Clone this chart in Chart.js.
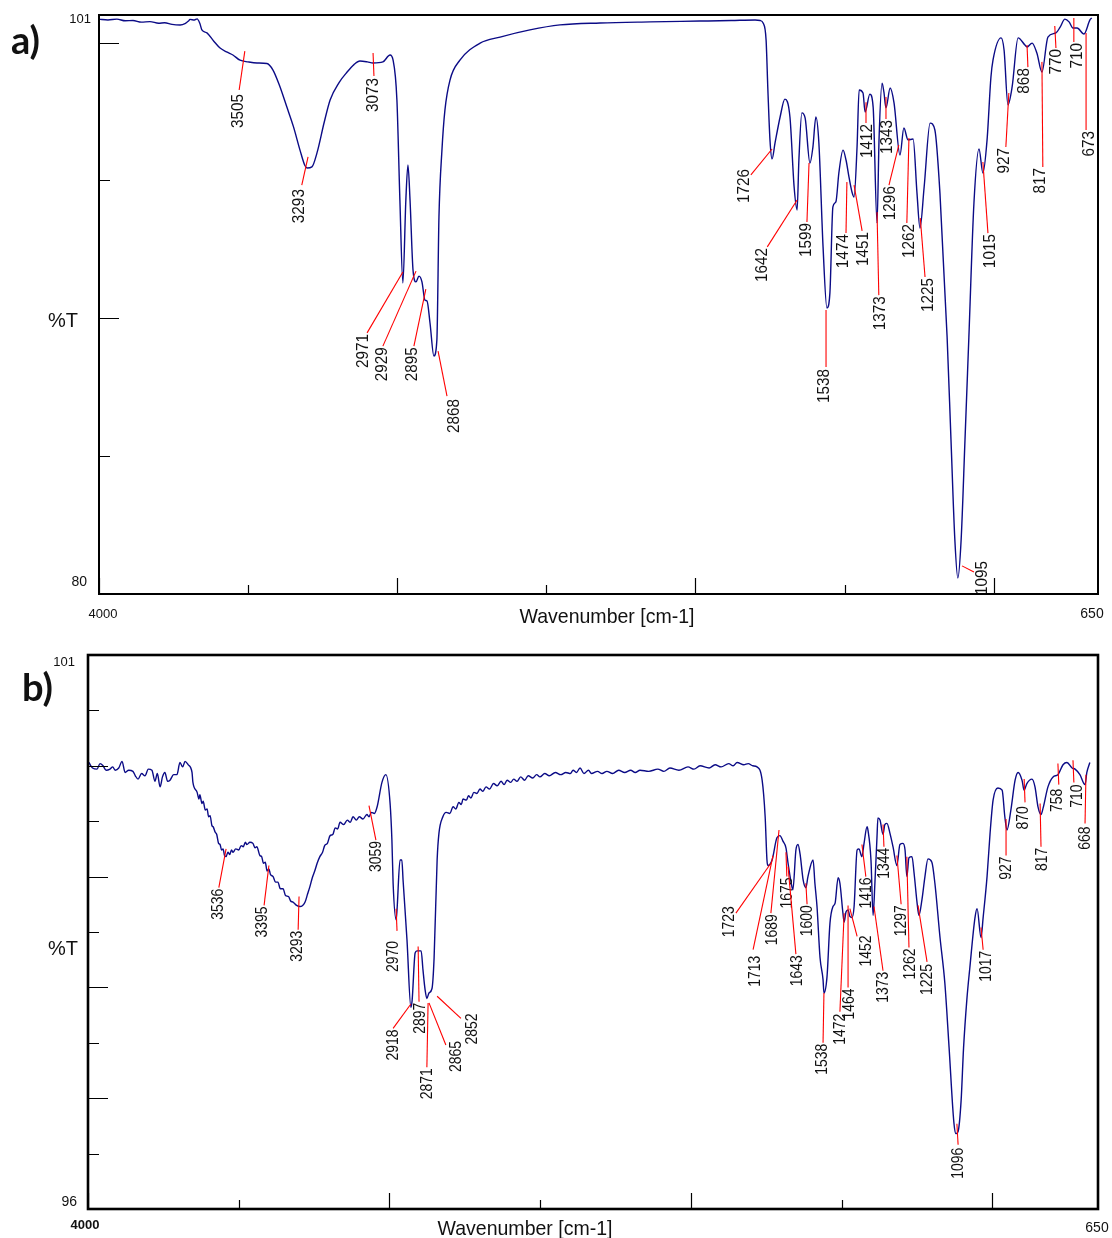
<!DOCTYPE html>
<html>
<head>
<meta charset="utf-8">
<script src="https://cdn.jsdelivr.net/npm/chart.js@4.4.1/dist/chart.umd.min.js"></script>
<style>
  html, body { margin: 0; padding: 0; background: #fff; }
  body { width: 1112px; height: 1238px; position: relative; overflow: hidden; }
  canvas { position: absolute; left: 0; }
  #chartA { top: 0; }
  #chartB { top: 630px; }
</style>
</head>
<body>
<canvas id="chartA" width="1112" height="630"></canvas>
<canvas id="chartB" width="1112" height="608"></canvas>
<script>
// ---- spectrum a) ----
const wavenumberA = [4000,3970,3940,3912,3886,3858,3829,3800,3780,3755,3728,3710,3700,3695,3680,3671,3662,3655,3638,3615,
  3594,3570,3551,3527,3500,3470,3437,3417,3395,3370,3348,3326,3310,3302,3286,3269,3245,3225,3195,3168,
  3145,3125,3100,3081,3048,3024,3014,3001,2991,2981,2971,2964,2957,2947,2937,2927,2917,2907,2900,2890,
  2877,2867,2860,2850,2840,2823,2789,2722,2655,2555,2454,2320,2152,1985,1880,1800,1783,1773,1763,1757,
  1750,1743,1733,1716,1700,1683,1669,1659,1653,1643,1632,1616,1606,1596,1586,1572,1559,1549,1539,1529,
  1519,1505,1495,1485,1475,1468,1458,1451,1438,1431,1415,1404,1391,1384,1374,1368,1361,1347,1334,1314,
  1301,1287,1270,1257,1247,1233,1213,1197,1180,1156,1143,1130,1120,1109,1096,1083,1066,1049,1036,1022,
  1009,1002,975,965,952,938,918,895,888,871,855,838,818,791,777,761,747,734,720,697,677,671];
const transmittanceA = [100.85,100.82,100.85,100.79,100.80,100.74,100.76,100.70,100.72,100.66,100.64,100.70,100.78,100.84,100.82,100.86,100.70,100.46,100.35,100.05,
  99.80,99.65,99.55,99.36,99.30,99.26,99.24,99.01,98.45,97.66,96.95,96.10,95.55,95.45,95.49,96.00,97.10,97.92,98.55,98.93,
  99.20,99.33,99.30,99.26,99.30,99.55,99.37,97.92,94.29,91.28,94.29,95.56,94.29,91.75,91.32,91.53,91.32,90.66,90.63,89.83,
  88.63,89.21,93.67,96.10,97.55,98.64,99.37,99.98,100.20,100.46,100.64,100.71,100.75,100.78,100.80,100.82,100.80,100.71,100.09,98.28,
  96.47,95.78,96.36,97.30,97.95,97.30,94.76,93.93,95.74,97.45,97.26,95.63,96.21,97.30,96.36,92.59,90.37,90.92,94.04,94.22,
  95.27,96.10,95.74,95.12,94.58,94.40,96.21,98.28,98.17,97.48,98.13,97.66,93.46,96.58,98.53,98.21,97.63,98.35,97.81,95.92,
  96.90,96.47,96.50,94.54,93.27,94.76,97.08,96.83,94.54,89.32,85.60,81.96,80.58,81.96,85.60,89.32,94.18,96.14,95.27,96.47,
  98.75,99.37,100.17,99.73,97.74,98.39,100.17,99.91,99.84,99.98,99.62,98.93,100.20,100.35,100.56,100.85,100.75,100.53,100.53,100.31,100.82,100.89];
const peakLabelsA = ["3505","3293","3073","2971","2929","2895","2868","1726","1642","1599","1538","1474","1451","1412",
  "1343","1373","1296","1262","1225","1095","1015","927","868","817","770","710","673"];

// ---- spectrum b) ----
const wavenumberB = [3997,3985,3970,3960,3950,3940,3927,3918,3910,3898,
  3887,3877,3865,3851,3843,3834,3822,3811,3800,3788,
  3778,3770,3761,3753,3745,3736,3728,3716,3705,3695,
  3686,3678,3668,3655,3652,3638,3632,3629,3622,3618,
  3611,3605,3600,3595,3589,3585,3578,3573,3567,3562,
  3557,3552,3547,3542,3536,3530,3524,3519,3510,3500,
  3492,3485,3478,3473,3463,3453,3446,3440,3430,3424,
  3418,3412,3406,3400,3395,3386,3378,3370,3362,3353,
  3345,3335,3328,3320,3308,3297,3288,3280,3272,3264,
  3256,3248,3240,3231,3222,3215,3206,3197,3188,3180,
  3172,3164,3152,3140,3130,3121,3110,3100,3088,3075,
  3068,3060,3050,3041,3025,3012,2998,2992,2988,2978,
  2975,2965,2959,2955,2942,2929,2925,2915,2909,2895,
  2889,2882,2876,2869,2859,2852,2842,2836,2823,2812,
  2800,2789,2780,2770,2762,2756,2745,2738,2730,2720,
  2710,2700,2690,2680,2668,2655,2643,2630,2620,2610,
  2598,2588,2577,2565,2552,2540,2525,2512,2501,2485,
  2470,2450,2432,2415,2400,2391,2380,2368,2355,2340,
  2330,2310,2295,2279,2260,2240,2220,2200,2185,2169,
  2140,2110,2090,2070,2040,2010,1990,1970,1940,1920,
  1900,1875,1860,1847,1825,1810,1795,1781,1764,1754,
  1748,1745,1731,1715,1705,1695,1685,1678,1668,1662,
  1652,1645,1638,1628,1619,1612,1595,1589,1582,1572,
  1562,1559,1549,1539,1529,1522,1512,1506,1496,1492,
  1486,1479,1473,1466,1459,1449,1443,1433,1426,1416,
  1413,1403,1396,1390,1383,1380,1373,1363,1357,1350,
  1340,1330,1317,1307,1297,1290,1284,1277,1267,1260,
  1250,1244,1234,1224,1214,1201,1191,1174,1158,1144,
  1128,1121,1114,1104,1096,1085,1075,1058,1051,1038,
  1031,1018,1008,998,982,968,959,952,939,925,
  915,902,895,886,869,859,849,839,832,816,
  799,783,766,753,736,726,710,693,687,677];
const transmittanceB = [100.03,99.98,99.97,100.02,100.00,99.96,99.97,99.99,99.96,99.98,
  100.04,99.94,99.96,99.95,99.91,99.88,99.93,99.91,99.97,99.96,
  99.86,99.93,99.81,99.90,99.94,99.86,99.87,99.92,99.92,100.03,
  99.99,100.04,100.01,99.94,99.85,99.76,99.70,99.74,99.66,99.68,
  99.60,99.61,99.54,99.55,99.46,99.45,99.40,99.38,99.30,99.29,
  99.24,99.25,99.19,99.18,99.22,99.20,99.24,99.22,99.25,99.24,
  99.28,99.27,99.31,99.29,99.31,99.30,99.26,99.27,99.19,99.18,
  99.12,99.13,99.05,99.07,99.02,99.00,98.95,98.95,98.89,98.89,
  98.83,98.82,98.78,98.77,98.74,98.73,98.74,98.77,98.84,98.91,
  98.99,99.05,99.12,99.18,99.22,99.28,99.30,99.37,99.38,99.44,
  99.43,99.49,99.47,99.51,99.49,99.54,99.51,99.54,99.52,99.56,
  99.54,99.58,99.57,99.63,99.85,99.92,99.66,99.33,98.94,98.61,
  98.70,99.15,99.15,98.97,98.43,97.82,97.88,98.31,98.33,98.33,
  98.16,97.98,97.90,97.95,97.99,98.27,99.15,99.39,99.54,99.58,
  99.57,99.63,99.61,99.67,99.65,99.70,99.69,99.73,99.71,99.76,
  99.75,99.79,99.77,99.81,99.79,99.84,99.82,99.86,99.83,99.87,
  99.85,99.88,99.86,99.90,99.87,99.91,99.89,99.92,99.90,99.93,
  99.91,99.94,99.92,99.94,99.93,99.96,99.94,99.98,99.93,99.96,
  99.93,99.95,99.93,99.95,99.93,99.96,99.94,99.96,99.94,99.96,
  99.95,99.97,99.95,99.98,99.96,99.99,99.97,100.00,99.98,100.01,
  99.99,100.02,100.00,100.03,100.01,100.02,100.00,99.99,99.87,99.54,
  99.15,99.10,99.15,99.35,99.37,99.32,99.26,99.12,98.95,98.88,
  99.24,99.29,99.20,98.97,98.90,99.00,99.15,98.94,98.73,98.27,
  98.07,97.95,98.09,98.58,98.73,98.76,98.99,98.94,98.67,98.59,
  98.68,98.70,98.64,98.63,98.73,99.24,99.25,99.18,99.30,99.45,
  99.42,99.15,98.65,98.94,99.36,99.53,99.51,99.38,99.47,99.48,
  99.39,99.27,99.10,99.29,99.30,99.24,99.00,99.17,99.18,99.03,
  98.76,98.65,98.79,99.00,99.16,99.13,98.94,98.45,98.04,97.46,
  96.78,96.68,96.70,96.98,97.45,97.89,98.18,98.63,98.71,98.45,
  98.63,99.00,99.39,99.69,99.80,99.78,99.54,99.42,99.60,99.87,
  99.94,99.87,99.78,99.84,99.88,99.81,99.63,99.56,99.62,99.81,
  99.90,99.92,100.01,100.03,99.98,99.97,99.92,99.83,99.94,100.03];
const peakLabelsB = ["3536","3395","3293","3059","2970","2918","2897","2871","2865","2852","1723","1713","1689","1675",
  "1643","1600","1538","1472","1464","1452","1416","1344","1373","1297","1262","1225","1096","1017","927","870",
  "817","758","710","668"];

// axis ticks and end labels
const xTicks = [4000, 3500, 3000, 2500, 2000, 1500, 1000];
const yTicksA = [100, 95, 90, 85];
const yTicksB = [100.5, 100, 99.5, 99, 98.5, 98, 97.5, 97, 96.5];
const xEndLabels = ["4000", "650"];
const yEndLabelsA = ["101", "80"];
const yEndLabelsB = ["101", "96"];

// leader layout: [from wn, from %T, to wn, to %T, text dx, text dy]
const leadersA = [
  [3511,99.69,3530,98.28,-1,3],[3299,95.85,3320,94.83,-2,3],[3081,99.62,3078,98.79,-1,1],
  [2981,91.68,3101,89.47,-4,0],[2937,91.71,3048,88.99,-1,0],[2904,91.06,2944,88.99,-2,0],
  [2863,88.81,2833,87.18,7,2],[1743,96.14,1814,95.20,-7,-7],[1659,94.29,1759,92.59,-5,0],
  [1619,95.63,1626,93.49,-1,0],[1562,90.30,1562,88.23,-2,1],[1492,94.94,1495,93.09,-3,0],
  [1468,94.83,1441,93.17,1,0],[1428,97.84,1428,97.08,1,0],[1361,98.03,1361,97.23,1,0],
  [1391,93.85,1385,90.84,1,0],[1318,96.28,1351,94.83,1,0],[1284,96.54,1291,93.46,2,0],
  [1246,93.64,1230,91.50,3,0],[1106,81.02,1066,80.80,8,-12],[1036,95.67,1019,93.09,2,0],
  [949,98.17,959,96.21,-2,0],[888,99.91,885,99.11,-4,0],[838,99.30,835,95.49,-3,0],
  [795,100.60,791,99.80,0,0],[731,100.89,731,100.02,3,0],[690,100.35,690,96.83,3,0]
];
const leadersB = [
  [3542,99.25,3566,98.90,-1,0],[3400,99.10,3416,98.74,-2,0],[3300,98.82,3303,98.52,-1,0],
  [3068,99.64,3045,99.33,0,0],[2978,98.71,2975,98.51,-4,9],[2929,97.85,2988,97.63,0,0],
  [2905,98.37,2902,97.87,1,0],[2872,97.86,2876,97.28,0,0],[2869,97.86,2813,97.48,10,-5],
  [2842,97.92,2763,97.72,11,-6],[1735,99.12,1851,98.67,-7,-8],[1728,99.19,1794,98.34,2,5],
  [1708,99.42,1735,98.67,1,0],[1685,99.22,1682,99.00,0,0],[1678,99.09,1652,98.30,1,0],
  [1619,98.94,1615,98.75,0,0],[1559,97.95,1562,97.50,-1,0],[1492,98.67,1506,97.78,0,1],
  [1479,98.74,1479,98.00,1,0],[1473,98.71,1449,98.46,9,-2],[1433,99.29,1420,99.00,0,0],
  [1363,99.47,1360,99.27,0,0],[1393,98.73,1363,98.15,0,0],[1317,99.19,1303,98.75,0,0],
  [1284,99.18,1277,98.36,1,0],[1247,98.74,1217,98.23,0,1],[1118,96.77,1114,96.58,0,2],
  [1038,98.54,1031,98.34,3,0],[955,99.52,955,99.19,0,0],[895,99.88,892,99.67,-2,3],
  [842,99.66,839,99.27,1,0],[783,100.02,780,99.83,-1,3],[733,100.05,730,99.85,3,1],
  [690,99.92,693,99.48,0,2]
];

const FONT = '"Liberation Sans", Arial, sans-serif';

function drawText(ctx, str, x, y, font, align, squeeze) {
  ctx.save();
  ctx.font = font;
  ctx.fillStyle = '#111';
  ctx.textAlign = align || 'center';
  ctx.textBaseline = 'middle';
  if (squeeze) {
    ctx.translate(x, y);
    ctx.scale(squeeze, 1);
    ctx.fillText(str, 0, 0);
  } else {
    ctx.fillText(str, x, y);
  }
  ctx.restore();
}

function spectrumPlugin(cfg) {
  return {
    id: 'spectrum' + cfg.name,
    afterDatasetsDraw(chart) {
      const { ctx, chartArea: a, scales: { x, y } } = chart;
      ctx.save();

      // red leader lines with rotated peak labels
      ctx.strokeStyle = '#ff0000';
      ctx.lineWidth = 1.1;
      cfg.peaks.forEach((label, i) => {
        const [w1, t1, w2, t2, dx, dy] = cfg.leaders[i];
        const x2 = x.getPixelForValue(w2), y2 = y.getPixelForValue(t2);
        ctx.beginPath();
        ctx.moveTo(x.getPixelForValue(w1), y.getPixelForValue(t1));
        ctx.lineTo(x2, y2);
        ctx.stroke();
        ctx.save();
        ctx.translate(x2 + dx, y2 + dy + 1);
        ctx.rotate(-Math.PI / 2);
        ctx.scale(cfg.squeeze, 1);
        ctx.font = cfg.peakFont;
        ctx.fillStyle = '#111';
        ctx.textAlign = 'right';
        ctx.textBaseline = 'middle';
        ctx.fillText(label, 0, 0);
        ctx.restore();
      });

      // frame and inner ticks
      ctx.strokeStyle = '#000';
      ctx.lineWidth = cfg.frameWidth;
      ctx.strokeRect(a.left, a.top, a.right - a.left, a.bottom - a.top);
      ctx.lineWidth = 1.2;
      ctx.beginPath();
      cfg.yTicks.forEach(v => {
        const py = Math.round(y.getPixelForValue(v)) + 0.5;
        ctx.moveTo(a.left, py);
        ctx.lineTo(a.left + (cfg.isMajor(v) ? 20 : 11), py);
      });
      xTicks.forEach(v => {
        const px = Math.round(x.getPixelForValue(v)) + 0.5;
        ctx.moveTo(px, a.bottom);
        ctx.lineTo(px, a.bottom - (v % 1000 === 0 ? 16 : 9));
      });
      ctx.stroke();

      // end labels, axis titles, panel letter
      const L = cfg.labels;
      drawText(ctx, cfg.yEnds[0], a.left + L.topDx, a.top + L.topDy, '13px ' + FONT, 'right');
      drawText(ctx, cfg.yEnds[1], a.left + L.botDx, a.bottom + L.botDy, '14px ' + FONT, 'right');
      drawText(ctx, xEndLabels[0], a.left + L.x0Dx, a.bottom + L.x0Dy, L.x0Font, 'center');
      drawText(ctx, xEndLabels[1], a.right + L.x1Dx, a.bottom + L.x1Dy, '14px ' + FONT, 'center');
      drawText(ctx, 'Wavenumber [cm-1]', L.titleX, a.bottom + L.titleDy, '21px ' + FONT, 'center', 0.93);
      drawText(ctx, '%T', 63, L.pctY, '20px ' + FONT, 'center');
      drawText(ctx, cfg.letter, L.letterX, L.letterY, 'bold 38px Lato, ' + FONT, 'left');
      ctx.restore();
    }
  };
}

function makeChart(id, wn, tr, yMin, padding, cfg) {
  const points = wn.map((w, i) => ({ x: w, y: tr[i] }));
  return new Chart(document.getElementById(id), {
    type: 'scatter',
    data: {
      datasets: [{
        data: points,
        showLine: true,
        borderColor: '#0b0b86',
        borderWidth: 1.4,
        pointRadius: 0,
        cubicInterpolationMode: 'monotone'
      }]
    },
    options: {
      responsive: false,
      animation: false,
      events: [],
      layout: { padding: padding },
      plugins: { legend: { display: false }, tooltip: { enabled: false } },
      scales: {
        x: { type: 'linear', reverse: true, min: 650, max: 4000, display: false },
        y: { type: 'linear', min: yMin, max: 101, display: false }
      }
    },
    plugins: [spectrumPlugin(cfg)]
  });
}

makeChart('chartA', wavenumberA, transmittanceA, 80,
  { left: 99, top: 15, right: 14, bottom: 36 },
  {
    name: 'A', peaks: peakLabelsA, leaders: leadersA, yTicks: yTicksA,
    isMajor: v => v % 10 === 0, yEnds: yEndLabelsA, frameWidth: 2,
    peakFont: '17px ' + FONT, squeeze: 0.9, letter: 'a)',
    labels: { topDx: -8, topDy: 4.5, botDx: -12, botDy: -12, x0Dx: 4, x0Dy: 20, x0Font: '13px ' + FONT,
      x1Dx: -6, x1Dy: 20, titleX: 607, titleDy: 23, pctY: 321, letterX: 11, letterY: 42 }
  });

makeChart('chartB', wavenumberB, transmittanceB, 96,
  { left: 88, top: 25, right: 14, bottom: 29 },
  {
    name: 'B', peaks: peakLabelsB, leaders: leadersB, yTicks: yTicksB,
    isMajor: v => v % 1 === 0, yEnds: yEndLabelsB, frameWidth: 2.6,
    peakFont: '17px ' + FONT, squeeze: 0.82, letter: 'b)',
    labels: { topDx: -13, topDy: 7, botDx: -11, botDy: -7, x0Dx: -3, x0Dy: 16.5, x0Font: 'bold 13px ' + FONT,
      x1Dx: -1, x1Dy: 19, titleX: 525, titleDy: 20, pctY: 319, letterX: 22, letterY: 59 }
  });
</script>
</body>
</html>
